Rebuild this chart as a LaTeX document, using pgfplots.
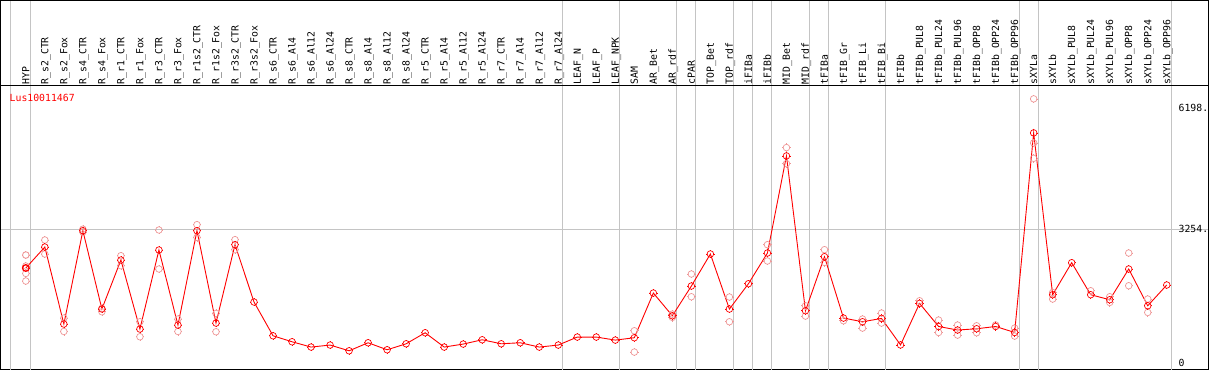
\documentclass[border=0pt]{standalone}
\usepackage{pgfplots}
\pgfplotsset{compat=1.18}
\usepackage{fontspec}
\newfontfamily\mono{DejaVu Sans Mono}
\definecolor{gridgray}{RGB}{196,196,196}
\definecolor{reppink}{RGB}{238,150,150}
\pgfdeclareplotmark{tgt}{%
  \pgfpathcircle{\pgfpointorigin}{\pgfplotmarksize}%
  \pgfusepathqstroke
  \pgfsetlinewidth{0.7pt}%
  \pgfpathmoveto{\pgfqpoint{0pt}{\pgfplotmarksize}}\pgfpathlineto{\pgfqpoint{0pt}{1.25\pgfplotmarksize}}%
  \pgfpathmoveto{\pgfqpoint{0pt}{-\pgfplotmarksize}}\pgfpathlineto{\pgfqpoint{0pt}{-1.25\pgfplotmarksize}}%
  \pgfpathmoveto{\pgfqpoint{\pgfplotmarksize}{0pt}}\pgfpathlineto{\pgfqpoint{1.25\pgfplotmarksize}{0pt}}%
  \pgfpathmoveto{\pgfqpoint{-\pgfplotmarksize}{0pt}}\pgfpathlineto{\pgfqpoint{-1.25\pgfplotmarksize}{0pt}}%
  \pgfusepathqstroke}
\begin{document}
\begin{tikzpicture}
\pgfplotsset{
  frame/.style={
    width=1207pt, scale only axis,
    xmin=-1.332, xmax=62.195,
    axis line style={black, line width=1pt},
    major tick length=0pt,
    grid style={gridgray, line width=1pt},
  }
}
% header
\begin{axis}[frame, name=header, height=85pt,
  ymin=0, ymax=1, ytick=\empty,
  xtick={-0.82,0.232,28.232,31.232,34.232,35.232,37.232,38.232,39.232,41.232,42.232,45.232,52.232,53.232,60.232},
  xticklabels={}, xmajorgrids=true]
\end{axis}
% main plot
\begin{axis}[frame, at={(header.south west)}, anchor=north west,
  height=284pt,
  ymin=-178, ymax=6751,
  xtick={0,...,60},
  xticklabels={HYP,R\_s2\_CTR,R\_s2\_Fox,R\_s4\_CTR,R\_s4\_Fox,R\_r1\_CTR,R\_r1\_Fox,R\_r3\_CTR,R\_r3\_Fox,R\_r1s2\_CTR,R\_r1s2\_Fox,R\_r3s2\_CTR,R\_r3s2\_Fox,R\_s6\_CTR,R\_s6\_Al4,R\_s6\_Al12,R\_s6\_Al24,R\_s8\_CTR,R\_s8\_Al4,R\_s8\_Al12,R\_s8\_Al24,R\_r5\_CTR,R\_r5\_Al4,R\_r5\_Al12,R\_r5\_Al24,R\_r7\_CTR,R\_r7\_Al4,R\_r7\_Al12,R\_r7\_Al24,LEAF\_N,LEAF\_P,LEAF\_NPK,SAM,AR\_Bet,AR\_rdf,cPAR,TOP\_Bet,TOP\_rdf,iFIBa,iFIBb,MID\_Bet,MID\_rdf,tFIBa,tFIB\_Gr,tFIB\_Li,tFIB\_Bi,tFIBb,tFIBb\_PUL8,tFIBb\_PUL24,tFIBb\_PUL96,tFIBb\_OPP8,tFIBb\_OPP24,tFIBb\_OPP96,sXYLa,sXYLb,sXYLb\_PUL8,sXYLb\_PUL24,sXYLb\_PUL96,sXYLb\_OPP8,sXYLb\_OPP24,sXYLb\_OPP96},
  xticklabel pos=upper,
  xticklabel style={rotate=90, anchor=west, inner sep=1pt, text height=7pt, text depth=0pt, font=\mono\fontsize{9.8}{10}\selectfont},
  extra x ticks={-0.82,0.232,28.232,31.232,34.232,35.232,37.232,38.232,39.232,41.232,42.232,45.232,52.232,53.232,60.232},
  extra x tick labels={},
  extra x tick style={grid=major},
  ytick={3254}, yticklabels={3254.},
  ymajorgrids=true,
  extra y ticks={0,6198}, extra y tick labels={0,6198.},
  extra y tick style={grid=none},
  yticklabel pos=right,
  yticklabel style={anchor=west, inner sep=0pt, xshift=-30pt, font=\mono\fontsize{9.8}{10}\selectfont},
  ]
% replicates
\addplot[only marks, mark=tgt, mark size=3.3pt, reppink, mark options={line width=0.9pt}] coordinates {
(0,2620)(0,2352)(0,2172)(0,1986)
(1,2986)(1,2645)
(2,1083)(2,756)
(3,3250)(3,3180)
(4,1237)(4,1320)
(5,2603)(5,2359)
(6,993)(6,627)
(7,3230)(7,2279)
(8,1059)(8,756)
(9,3360)(9,3050)
(10,1196)(10,749)
(11,2994)(11,2750)
(32,773)(32,254)
(34,1180)(34,1100)
(35,2157)(35,1603)
(37,1596)(37,993)
(39,2872)(39,2474)
(40,5239)(40,4848)
(41,1383)(41,1132)
(42,2750)(42,2440)
(43,1017)
(44,1059)(44,839)
(45,1205)(45,961)
(47,1505)
(48,1034)(48,732)
(49,912)(49,668)
(50,895)(50,725)
(51,915)
(52,839)(52,644)
(53,6427)(53,5353)(53,4978)
(54,1708)(54,1547)
(56,1749)
(57,1603)(57,1464)
(58,2669)(58,1871)
(59,1547)(59,1220)
};
% mean line
\addplot[red, line width=0.9pt, mark=tgt, mark size=3.3pt, mark options={line width=1.3pt}] coordinates {
(0,2303)(1,2815)(2,937)(3,3213)(4,1303)(5,2498)(6,815)(7,2742)(8,912)(9,3213)
(10,961)(11,2872)(12,1474)(13,651)(14,505)(15,376)(16,425)(17,285)(18,481)(19,310)
(20,456)(21,725)(22,376)(23,449)(24,554)(25,456)(26,481)(27,376)(28,425)(29,620)
(30,620)(31,546)(32,603)(33,1693)(34,1139)(35,1864)(36,2645)(37,1303)(38,1920)(39,2669)
(40,5036)(41,1261)(42,2579)(43,1083)(44,993)(45,1074)(46,428)(47,1440)(48,878)(49,791)
(50,822)(51,878)(52,732)(53,5597)(54,1652)(55,2433)(56,1652)(57,1530)(58,2279)(59,1383)
(60,1889)
};
\node[anchor=west, inner sep=0pt, text=red, font=\mono\fontsize{9.8}{10}\selectfont] at (axis cs:-0.858,6459) {Lus10011467};
\end{axis}
\end{tikzpicture}
\end{document}
